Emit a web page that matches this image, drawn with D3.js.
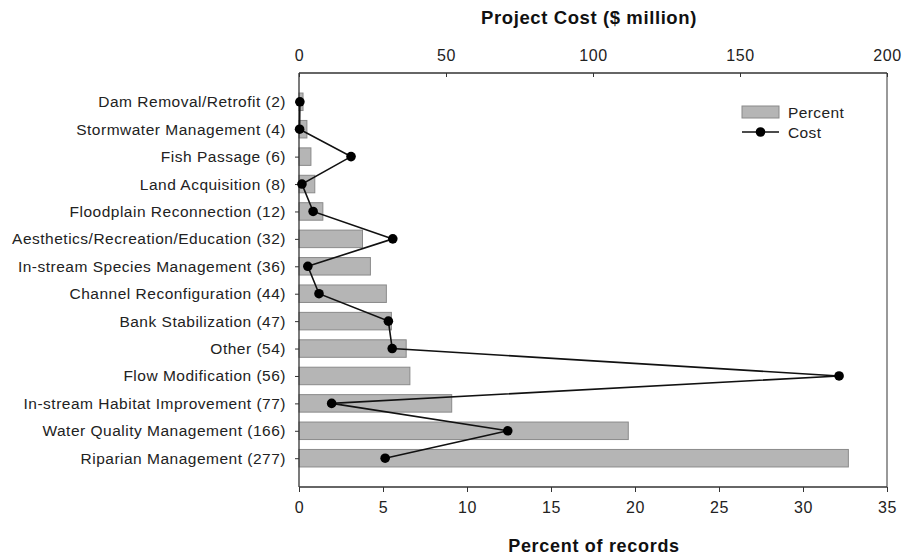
<!DOCTYPE html>
<html><head><meta charset="utf-8">
<script src="https://cdn.jsdelivr.net/npm/d3@7"></script>
<style>body{margin:0;background:#fff}svg{display:block}text{font-family:"Liberation Sans",Arial,sans-serif}</style>
</head><body>
<svg id="c" width="913" height="555"></svg>
<script>
const categories = ["Dam Removal/Retrofit (2)","Stormwater Management (4)","Fish Passage (6)","Land Acquisition (8)","Floodplain Reconnection (12)","Aesthetics/Recreation/Education (32)","In-stream Species Management (36)","Channel Reconfiguration (44)","Bank Stabilization (47)","Other (54)","Flow Modification (56)","In-stream Habitat Improvement (77)","Water Quality Management (166)","Riparian Management (277)"];
const percentValues = [0.24,0.47,0.71,0.94,1.42,3.78,4.25,5.2,5.5,6.38,6.6,9.09,19.6,32.7];
const costValues = [0.3,0.2,17.7,1.0,4.8,31.9,3.0,6.8,30.4,31.7,183.7,11.1,71.0,29.3];
const percentTicks = [0,5,10,15,20,25,30,35];
const costTicks = [0,50,100,150,200];

const svg = d3.select("#c");
const L=299,R=887,T=73,B=487;
const x = d3.scaleLinear().domain([0,35]).range([L,R]);
const xc = d3.scaleLinear().domain([0,200]).range([L,R]);
const y = d3.scalePoint().domain(categories).range([T,B]).padding(1.05);
const bh = 17.5;
const axisColor="#333", txt="#222";

// bars
svg.append("g").selectAll("rect").data(categories).join("rect")
  .attr("x",x(0)).attr("y",d=>y(d)-bh/2)
  .attr("width",(d,i)=>x(percentValues[i])-x(0)).attr("height",bh)
  .attr("fill","#b5b5b5").attr("stroke","#8a8a8a").attr("stroke-width",1);

// frame
svg.append("line").attr("x1",R).attr("x2",R).attr("y1",T).attr("y2",B).attr("stroke","#555").attr("stroke-width",1.2);

// bottom axis
const gb = svg.append("g").attr("transform",`translate(0,${B})`)
  .call(d3.axisBottom(x).tickValues(percentTicks).tickSize(5).tickPadding(10));
// top axis (ticks inward)
const gt = svg.append("g").attr("transform",`translate(0,${T})`)
  .call(d3.axisTop(xc).tickValues(costTicks).tickSize(-4).tickPadding(12));
// left axis
const gl = svg.append("g").attr("transform",`translate(${L},0)`)
  .call(d3.axisLeft(y).tickSize(4).tickPadding(9));
[gb,gt,gl].forEach(g=>{
  g.selectAll(".domain").attr("stroke",axisColor).attr("stroke-width",1.3);
  g.selectAll(".tick line").attr("stroke",axisColor);
  g.selectAll("text").attr("fill",txt).style("font-size","15.5px").style("letter-spacing","0.5px").style("font-family",'"Liberation Sans",Arial,sans-serif');
});
gb.selectAll("text").style("font-size","16px").style("letter-spacing","0.6px");
gt.selectAll("text").style("font-size","16px").style("letter-spacing","0.6px");
gb.selectAll(".domain").attr("d",`M${L},0H${R}`);
gt.selectAll(".domain").attr("d",`M${L},0H${R}`);
gl.selectAll(".domain").attr("d",`M0,${T}V${B}`);

// cost line
const line = d3.line().x((d,i)=>xc(costValues[i])).y(d=>y(d));
svg.append("path").datum(categories).attr("d",line).attr("fill","none").attr("stroke","#111").attr("stroke-width",1.6);
svg.append("g").selectAll("circle").data(categories).join("circle")
  .attr("cx",(d,i)=>xc(costValues[i])).attr("cy",d=>y(d)).attr("r",4.8).attr("fill","#000");

// titles
svg.append("text").attr("x",589).attr("y",24).attr("text-anchor","middle")
  .style("font-weight","bold").style("font-size","18.5px").style("letter-spacing","0.6px").attr("fill","#111").text("Project Cost ($ million)");
svg.append("text").attr("x",594).attr("y",552).attr("text-anchor","middle")
  .style("font-weight","bold").style("font-size","18px").style("letter-spacing","0.7px").attr("fill","#111").text("Percent of records");

// legend
const lg = svg.append("g");
lg.append("rect").attr("x",742).attr("y",106).attr("width",37).attr("height",12).attr("fill","#b5b5b5").attr("stroke","#8a8a8a");
lg.append("text").attr("x",788).attr("y",118).style("font-size","15.5px").style("letter-spacing","0.4px").attr("fill",txt).text("Percent");
lg.append("line").attr("x1",742).attr("x2",779).attr("y1",132).attr("y2",132).attr("stroke","#111").attr("stroke-width",1.6);
lg.append("circle").attr("cx",760.5).attr("cy",132).attr("r",4.8).attr("fill","#000");
lg.append("text").attr("x",788).attr("y",138).style("font-size","15.5px").style("letter-spacing","0.4px").attr("fill",txt).text("Cost");
</script>
</body></html>
